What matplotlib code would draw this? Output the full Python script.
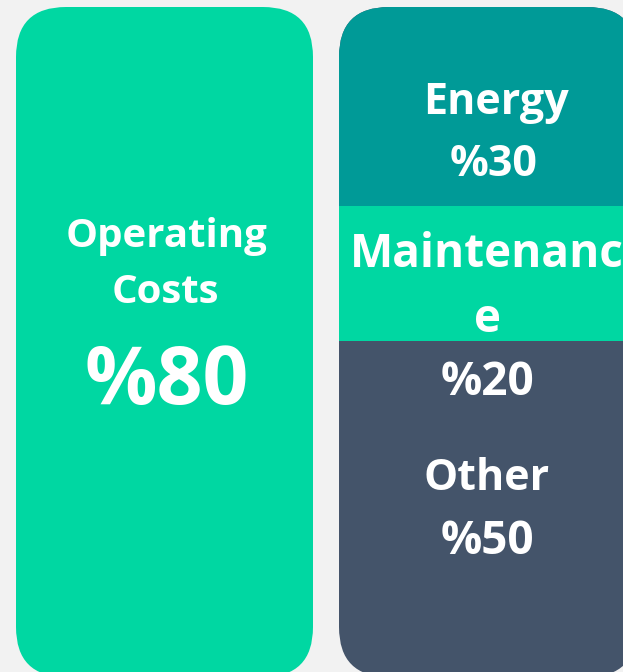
import matplotlib
matplotlib.use("Agg")
import matplotlib.pyplot as plt
from matplotlib.patches import FancyBboxPatch, Rectangle

# ---- data ----
main_label = ["Operating", "Costs"]
main_value = 80
sub_labels = ["Energy", "Maintenance", "Other"]
sub_values = [30, 20, 50]

# ---- style ----
BG = "#F2F2F2"
GREEN = "#00D7A2"
TEAL = "#009A97"
SLATE = "#44546A"
FONT = ["Open Sans", "DejaVu Sans"]

W, H = 623, 672
fig = plt.figure(figsize=(W / 100, H / 100), dpi=100, facecolor=BG)
ax = fig.add_axes([0, 0, 1, 1])
ax.set_xlim(0, W)
ax.set_ylim(H, 0)
ax.axis("off")
ax.set_facecolor(BG)

R = 50
# left box
left = FancyBboxPatch((16 + R, 7 + R), 297 - 2 * R, 670 - 2 * R,
                      boxstyle=f"round,pad={R},rounding_size={R}",
                      fc=GREEN, ec="none")
ax.add_patch(left)

# right box
right = FancyBboxPatch((339 + R, 7 + R), 298 - 2 * R, 670 - 2 * R,
                       boxstyle=f"round,pad={R},rounding_size={R}",
                       fc=SLATE, ec="none")
ax.add_patch(right)
teal = Rectangle((330, 0), 320, 206, fc=TEAL, ec="none")
ax.add_patch(teal)
teal.set_clip_path(right)
band = Rectangle((339, 206), 300, 135, fc=GREEN, ec="none")
ax.add_patch(band)
band.set_clip_path(right)

def t(x, y, s, size):
    ax.text(x, y, s, color="white", fontsize=size, fontweight="bold",
            family=FONT, ha="center", va="baseline")

# left texts
t(167, 247, main_label[0], 29)
t(165, 303, main_label[1], 29)
t(167, 404, f"%{main_value}", 58)

# right texts
t(496, 114, sub_labels[0], 31)
t(494, 176, f"%{sub_values[0]}", 31)
m = sub_labels[1]
t(487, 267, m[:-1], 33)
t(487, 332, m[-1], 33)
t(487, 395, f"%{sub_values[1]}", 33)
t(487, 490, sub_labels[2], 31)
t(487, 554, f"%{sub_values[2]}", 33)

fig.savefig("out.png", dpi=100, facecolor=BG)
